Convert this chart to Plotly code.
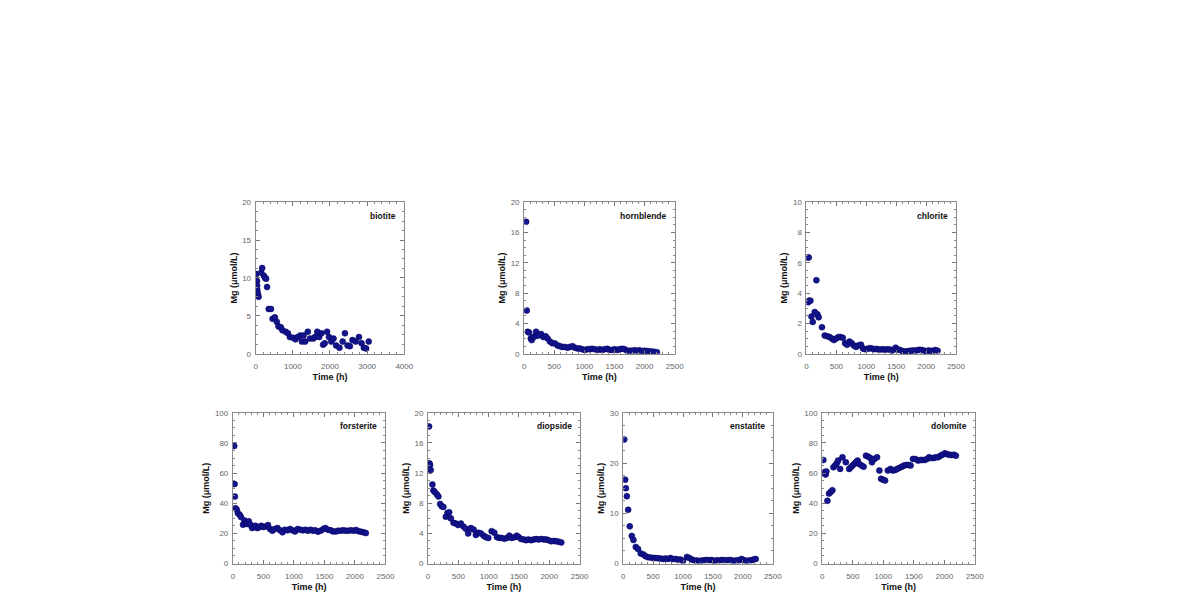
import plotly.graph_objects as go

# ---------------- data ----------------
biotite_t = [18, 35, 38, 44, 61, 79, 149, 175, 219, 254, 281, 307, 351, 412, 456, 517, 570, 614, 675, 719, 807, 868, 921, 1009, 1070, 1131, 1201, 1245, 1289, 1333, 1403, 1465, 1552, 1596, 1658, 1710, 1772, 1815, 1859, 1921, 1973, 2035, 2096, 2166, 2254, 2342, 2403, 2473, 2535, 2605, 2692, 2780, 2850, 2912, 2973, 3043]
biotite_mg = [10.5, 9.6, 9.0, 8.4, 7.9, 7.5, 10.7, 11.3, 10.3, 10.0, 9.9, 8.8, 5.9, 5.9, 4.6, 4.8, 4.2, 3.6, 3.5, 3.1, 2.9, 2.7, 2.2, 2.1, 1.9, 2.2, 2.4, 1.6, 2.4, 1.6, 2.9, 2.0, 2.0, 2.2, 2.9, 2.2, 2.7, 1.2, 1.4, 2.9, 2.2, 1.6, 2.0, 1.1, 0.8, 1.6, 2.7, 1.1, 1.0, 1.8, 1.6, 2.2, 1.4, 0.8, 0.7, 1.6]

hornblende_t = [33, 44, 60, 82, 110, 126, 154, 181, 198, 236, 280, 319, 357, 390, 429, 467, 511, 555, 594, 632, 676, 720, 759, 803, 841, 885, 924, 962, 1006, 1050, 1089, 1127, 1171, 1215, 1254, 1298, 1336, 1380, 1419, 1457, 1501, 1545, 1584, 1628, 1666, 1710, 1749, 1787, 1831, 1875, 1914, 1952, 1996, 2040, 2079, 2117, 2161, 2205]
hornblende_mg = [17.4, 5.7, 2.9, 2.8, 2.0, 1.8, 2.2, 2.3, 2.9, 2.4, 2.6, 2.2, 2.3, 2.0, 1.6, 1.4, 1.35, 1.1, 1.0, 0.9, 0.9, 0.8, 0.9, 1.0, 0.8, 0.7, 0.7, 0.6, 0.5, 0.6, 0.6, 0.65, 0.6, 0.5, 0.6, 0.5, 0.6, 0.65, 0.5, 0.5, 0.6, 0.5, 0.6, 0.65, 0.6, 0.4, 0.4, 0.4, 0.45, 0.4, 0.45, 0.35, 0.4, 0.35, 0.3, 0.3, 0.25, 0.2]

chlorite_t = [17, 39, 28, 44, 66, 83, 105, 138, 166, 182, 204, 259, 304, 348, 386, 425, 458, 497, 535, 569, 607, 646, 679, 718, 756, 789, 828, 867, 911, 944, 977, 1021, 1060, 1093, 1132, 1170, 1203, 1242, 1281, 1314, 1352, 1391, 1424, 1463, 1490, 1529, 1562, 1601, 1639, 1673, 1711, 1750, 1783, 1822, 1860, 1893, 1932, 1971, 2004, 2042, 2081, 2114, 2153, 2191]
chlorite_mg = [6.35, 6.35, 3.4, 3.5, 3.5, 2.45, 2.1, 2.75, 4.85, 2.6, 2.4, 1.75, 1.2, 1.15, 1.1, 1.0, 0.9, 1.0, 1.1, 1.1, 1.05, 0.7, 0.6, 0.8, 0.7, 0.55, 0.45, 0.55, 0.6, 0.35, 0.3, 0.33, 0.37, 0.35, 0.3, 0.32, 0.28, 0.28, 0.3, 0.26, 0.3, 0.28, 0.2, 0.28, 0.4, 0.28, 0.24, 0.18, 0.15, 0.15, 0.18, 0.2, 0.22, 0.2, 0.24, 0.26, 0.24, 0.2, 0.15, 0.22, 0.18, 0.2, 0.24, 0.2]

forsterite_t = [22, 28, 33, 44, 66, 83, 111, 133, 166, 188, 210, 232, 260, 288, 315, 343, 371, 398, 426, 465, 498, 536, 575, 608, 647, 686, 730, 774, 813, 852, 896, 935, 979, 1018, 1062, 1106, 1145, 1189, 1228, 1272, 1311, 1349, 1394, 1438, 1482, 1515, 1559, 1604, 1642, 1687, 1725, 1770, 1808, 1847, 1891, 1936, 1980, 2018, 2057, 2101, 2140, 2179]
forsterite_mg = [78, 52.7, 44.4, 36.7, 35.6, 33.4, 32.3, 30.8, 25.7, 28.6, 26.8, 26.2, 28, 25.7, 23.5, 24.6, 25, 23.5, 24, 25, 24.2, 24.6, 25.5, 22.9, 21.8, 22.9, 23.5, 22, 20.7, 22.4, 22, 22.9, 22, 21.3, 22.9, 22.4, 22, 22.4, 21.8, 22.4, 21.8, 22, 21.1, 21.8, 22.9, 23.5, 22.4, 22, 21.3, 21.3, 21.8, 21.8, 22, 21.8, 21.8, 22, 21.8, 22.2, 21.5, 21.1, 20.7, 20.2]

diopside_t = [17, 22, 33, 44, 72, 88, 110, 144, 171, 199, 226, 254, 293, 320, 348, 375, 420, 458, 497, 541, 585, 624, 662, 707, 751, 789, 828, 872, 916, 955, 994, 1049, 1093, 1137, 1176, 1214, 1259, 1303, 1341, 1380, 1424, 1463, 1496, 1535, 1579, 1617, 1656, 1700, 1744, 1783, 1822, 1866, 1910, 1949, 1987, 2031, 2076, 2114, 2153, 2197]
diopside_mg = [18.2, 13.3, 13.1, 12.4, 10.5, 9.7, 9.5, 9.2, 8.9, 7.9, 7.6, 7.5, 6.2, 6.7, 6.8, 6.0, 5.4, 5.3, 5.1, 5.3, 4.9, 4.6, 4.0, 4.7, 4.5, 3.8, 4.1, 4.0, 3.7, 3.5, 3.4, 4.3, 4.1, 3.5, 3.4, 3.4, 3.3, 3.4, 3.7, 3.4, 3.5, 3.7, 3.5, 3.25, 3.2, 3.1, 3.2, 3.1, 3.2, 3.25, 3.2, 3.25, 3.2, 3.2, 3.1, 2.95, 3.0, 2.95, 2.9, 2.8]

enstatite_t = [17, 33, 44, 61, 83, 110, 144, 171, 210, 248, 293, 337, 375, 414, 458, 502, 541, 580, 624, 668, 707, 745, 789, 828, 872, 911, 955, 999, 1065, 1104, 1148, 1187, 1231, 1275, 1314, 1358, 1397, 1441, 1479, 1518, 1562, 1606, 1645, 1684, 1728, 1772, 1811, 1849, 1893, 1932, 1976, 2015, 2059, 2098, 2142, 2180, 2214]
enstatite_mg = [24.7, 16.7, 15.0, 13.4, 10.7, 7.4, 5.5, 4.7, 3.3, 2.9, 2.0, 1.8, 1.45, 1.25, 1.2, 1.1, 1.1, 1.05, 1.0, 0.9, 1.0, 0.9, 1.1, 0.9, 0.9, 0.8, 0.8, 0.5, 1.3, 1.1, 0.8, 0.6, 0.6, 0.5, 0.6, 0.65, 0.7, 0.65, 0.7, 0.5, 0.65, 0.6, 0.7, 0.65, 0.65, 0.7, 0.65, 0.5, 0.65, 0.6, 0.9, 0.7, 0.5, 0.6, 0.65, 0.8, 0.9]

dolomite_t = [17, 28, 39, 55, 66, 83, 110, 138, 165, 182, 209, 237, 259, 292, 330, 385, 440, 468, 495, 523, 550, 578, 605, 644, 677, 715, 754, 787, 814, 853, 897, 935, 963, 996, 1029, 1073, 1117, 1155, 1194, 1227, 1265, 1304, 1337, 1375, 1414, 1447, 1485, 1524, 1568, 1606, 1639, 1678, 1716, 1749, 1788, 1826, 1859, 1898, 1936, 1969, 2008, 2046, 2079, 2118, 2156, 2189]
dolomite_mg = [68.7, 60.6, 59.5, 59.1, 61.1, 41.6, 46.4, 47.5, 48.6, 63.9, 65, 66.5, 68.3, 62.8, 70.5, 67.2, 62.8, 63.9, 65, 66.1, 67.2, 68.3, 66.1, 65, 64.3, 71.6, 70.9, 70, 67.2, 69.4, 70.5, 61.7, 56.2, 55.6, 55.1, 61.7, 62.8, 61.7, 62.1, 62.8, 63.5, 64.3, 65, 65.4, 65.4, 65, 69.4, 69.4, 68.3, 68.7, 68.7, 68.7, 69.4, 70.5, 70, 70, 70.5, 70.5, 71.6, 72.2, 73.1, 72.6, 72.2, 72, 72.2, 71.6]

minerals = ["biotite", "hornblende", "chlorite", "forsterite", "diopside", "enstatite", "dolomite"]
times = [biotite_t, hornblende_t, chlorite_t, forsterite_t, diopside_t, enstatite_t, dolomite_t]
values = [biotite_mg, hornblende_mg, chlorite_mg, forsterite_mg, diopside_mg, enstatite_mg, dolomite_mg]
x_max = [4000, 2500, 2500, 2500, 2500, 2500, 2500]
x_step = [1000, 500, 500, 500, 500, 500, 500]
y_max = [20, 20, 10, 100, 20, 30, 100]
y_step = [5, 4, 2, 20, 4, 10, 20]

# ---------------- layout (pixel boxes in window coordinates) ----------------
OFF = 8  # default body margin of the html page
W, H = 1190 - 2 * OFF, 611 - 2 * OFF
boxes = [  # left, right, top, bottom in window pixels
    (256, 406, 201, 355),
    (527, 679, 201, 355),
    (812, 963, 201, 355),
    (233, 387, 415, 568),
    (430, 583, 415, 568),
    (627, 778, 415, 568),
    (828, 982, 415, 568),
]

fig = go.Figure()
annotations = []
layout_axes = {}
FONT = "Arial, Liberation Sans, sans-serif"
for i, (name, t, v) in enumerate(zip(minerals, times, values)):
    n = "" if i == 0 else str(i + 1)
    fig.add_trace(go.Scatter(
        x=t, y=v, mode="markers", xaxis="x" + n, yaxis="y" + n,
        marker=dict(size=6, color="#14148c", line=dict(width=0.5, color="#000060")),
        showlegend=False, hoverinfo="x+y", name=name))
    l, r, tp, bt = boxes[i]
    common = dict(showline=True, linecolor="#8a8a8a", linewidth=1, mirror="allticks",
                  ticks="inside", ticklen=4, tickwidth=1, tickcolor="#777",
                  showgrid=False, zeroline=False,
                  tickfont=dict(family=FONT, size=8, color="#666"),
                  minor=dict(ticks="inside", ticklen=2, tickcolor="#888", showgrid=False))
    layout_axes["xaxis" + n] = dict(
        common, domain=[(l - OFF) / W, (r - OFF) / W], anchor="y" + n, range=[0, x_max[i]],
        tickmode="linear", tick0=0, dtick=x_step[i], ticklabelstandoff=5,
        minor=dict(common["minor"], dtick=x_step[i] / 5),
        title=dict(text="<b>Time (h)</b>", standoff=3,
                   font=dict(family=FONT, size=9, color="#111")))
    layout_axes["yaxis" + n] = dict(
        common, domain=[1 - (bt - OFF) / H, 1 - (tp - OFF) / H], anchor="x" + n, range=[0, y_max[i]],
        tickmode="linear", tick0=0, dtick=y_step[i], ticklabelstandoff=2,
        minor=dict(common["minor"], dtick=y_step[i] / 4),
        title=dict(text="<b>Mg (\u03bcmol/L)</b>", standoff=3,
                   font=dict(family=FONT, size=9, color="#111")))
    annotations.append(dict(
        text="<b>" + name + "</b>", xref="x" + n + " domain", yref="y" + n + " domain",
        x=0.96, y=0.91, xanchor="right", yanchor="middle", showarrow=False,
        font=dict(family=FONT, size=8.5, color="#111")))

fig.update_layout(
    width=W, height=H, margin=dict(l=0, r=0, t=0, b=0),
    paper_bgcolor="white", plot_bgcolor="white",
    annotations=annotations, **layout_axes)

fig.write_html("out.html")
